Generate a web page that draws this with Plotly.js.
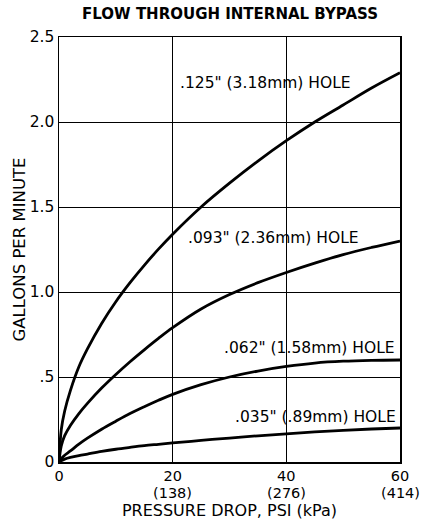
<!DOCTYPE html>
<html>
<head>
<meta charset="utf-8">
<script src="https://cdn.plot.ly/plotly-3.0.1.min.js"></script>
<style>html,body{margin:0;padding:0;background:#fff;}#chart{width:428px;height:522px;}</style>
</head>
<body>
<div id="chart"></div>
<script>
// Pressure drop (PSI) and flow (GPM)
const xPsi = [0, 0.4, 1, 2, 3.5, 5, 7.5, 10, 12.5, 15, 17.5, 20, 25, 30, 35, 40, 45, 50, 55, 60];
const y125 = [0, 0.19, 0.30, 0.42, 0.56, 0.665, 0.815, 0.943, 1.055, 1.157, 1.252, 1.34, 1.50, 1.64, 1.77, 1.89, 2.00, 2.10, 2.20, 2.29];
const y093 = [0, 0.095, 0.155, 0.215, 0.285, 0.345, 0.435, 0.515, 0.59, 0.66, 0.727, 0.79, 0.90, 0.985, 1.055, 1.115, 1.17, 1.22, 1.262, 1.30];
const y062 = [0, 0.02, 0.04, 0.065, 0.105, 0.14, 0.193, 0.24, 0.285, 0.325, 0.363, 0.398, 0.455, 0.50, 0.535, 0.562, 0.582, 0.593, 0.598, 0.60];
const y035 = [0, 0.008, 0.017, 0.027, 0.038, 0.047, 0.062, 0.075, 0.086, 0.096, 0.104, 0.112, 0.127, 0.141, 0.154, 0.166, 0.177, 0.186, 0.194, 0.20];

const xTickVals = [0, 20, 40, 60];
const xTickText = ["0", "20", "40", "60"];
const kPaVals = [20, 40, 60];
const kPaText = ["(138)", "(276)", "(414)"];
const yTickVals = [0, 0.5, 1.0, 1.5, 2.0, 2.5];
const yTickText = ["0", ".5", "1.0", "1.5", "2.0", "2.5"];

const labels = ['.125" (3.18mm) HOLE', '.093" (2.36mm) HOLE', '.062" (1.58mm) HOLE', '.035" (.89mm) HOLE'];
const labelX = [36.4, 37.8, 44.1, 45.2];
const labelY = [2.23, 1.32, 0.67, 0.265];

const FONT = "DejaVu Sans, Verdana, sans-serif";
const line = {color: '#000', width: 2.8, shape: 'spline', smoothing: 1.0};
const traces = [y125, y093, y062, y035].map(ys => ({
  x: xPsi, y: ys, mode: 'lines', type: 'scatter', line: line, hoverinfo: 'skip', showlegend: false
}));

const annotations = labels.map((t, i) => ({
  x: labelX[i], y: labelY[i], xref: 'x', yref: 'y', text: t, showarrow: false,
  font: {family: FONT, size: 15.5, color: '#000'}
})).concat(kPaVals.map((v, i) => ({
  x: v, y: 0, xref: 'x', yref: 'paper', yshift: -31, text: kPaText[i], showarrow: false,
  xanchor: 'center', yanchor: 'middle', borderpad: 0, font: {family: FONT, size: 14.5, color: '#000'}
})));

const layout = {
  width: 428, height: 522,
  margin: {l: 59, r: 28, t: 37, b: 60},
  paper_bgcolor: '#fff', plot_bgcolor: '#fff',
  font: {family: FONT, color: '#000', size: 15},
  title: {text: 'FLOW THROUGH INTERNAL BYPASS', font: {family: FONT, size: 15, color: '#000', weight: 'bold'}, x: 0.5375, xanchor: 'center', y: 0.973, yanchor: 'middle'},
  xaxis: {
    range: [0, 60], tickvals: xTickVals, ticktext: xTickText, ticks: '',
    showgrid: true, gridcolor: '#000', gridwidth: 1, zeroline: false,
    showline: true, linecolor: '#000', linewidth: 1.5, mirror: true,
    tickfont: {size: 14.5}, fixedrange: true,
    title: {text: 'PRESSURE DROP, PSI (kPa)', font: {size: 16}, standoff: 22}
  },
  yaxis: {
    range: [0, 2.5], tickvals: yTickVals, ticktext: yTickText, ticks: '',
    showgrid: true, gridcolor: '#000', gridwidth: 1, zeroline: false,
    showline: true, linecolor: '#000', linewidth: 1.5, mirror: true,
    tickfont: {size: 15.5}, fixedrange: true,
    title: {text: 'GALLONS PER MINUTE', font: {size: 16.5}, standoff: 0}
  },
  annotations: annotations
};

Plotly.newPlot('chart', traces, layout, {staticPlot: true, displayModeBar: false});
</script>
</body>
</html>
